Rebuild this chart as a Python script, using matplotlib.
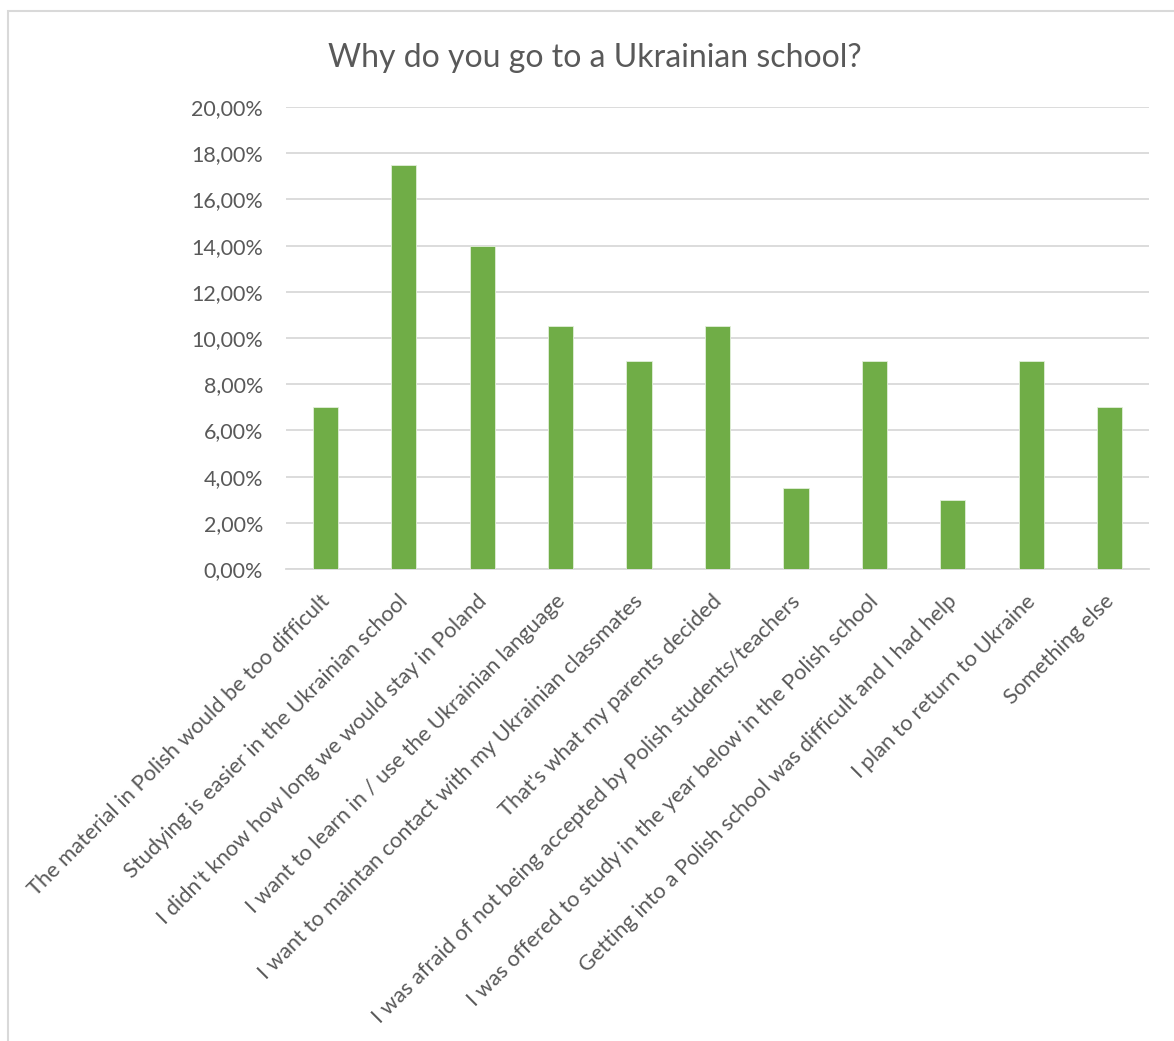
import matplotlib
matplotlib.use("Agg")
import matplotlib.pyplot as plt
import matplotlib.transforms as mtransforms
from matplotlib.ticker import FuncFormatter
from matplotlib.patches import Rectangle

title = "Why do you go to a Ukrainian school?"
categories = [
    "The material in Polish would be too difficult",
    "Studying is easier in the Ukrainian school",
    "I didn't know how long we would stay in Poland",
    "I want to learn in / use the Ukrainian language",
    "I want to maintan contact with my Ukrainian classmates",
    "That's what my parents decided",
    "I was afraid of not being accepted by Polish students/teachers",
    "I was offered to study in the year below in the Polish school",
    "Getting into a Polish school was difficult and I had help",
    "I plan to return to Ukraine",
    "Something else",
]
shares = [7.0, 17.5, 14.0, 10.5, 9.0, 10.5, 3.5, 9.0, 3.0, 9.0, 7.0]
y_ticks = [0, 2, 4, 6, 8, 10, 12, 14, 16, 18, 20]

TEXT = "#595959"
GRID = "#D9D9D9"
BAR = "#70AD47"
FONT = ["Lato", "DejaVu Sans"]

plt.rcParams["font.family"] = FONT

W, H = 1174, 1041
fig = plt.figure(figsize=(W / 100, H / 100), dpi=100)
fig.patch.set_facecolor("white")

# chart-area frame
fig.add_artist(Rectangle((7.5 / W, -0.01), 1.1, 1 - 11 / H + 0.01,
                         transform=fig.transFigure, fill=False,
                         edgecolor=GRID, linewidth=1.5))

ax = fig.add_axes([286 / W, 1 - 569 / H, (1149 - 286) / W, (569 - 107) / H])
x = list(range(len(categories)))
ax.bar(x, shares, width=0.32, color=BAR, edgecolor="#E2EFDA", linewidth=0.6,
       zorder=3)

ax.set_xlim(-0.5, len(categories) - 0.5)
ax.set_ylim(0, 20)
ax.set_yticks(y_ticks)
ax.yaxis.set_major_formatter(FuncFormatter(lambda v, p: f"{v:.2f}%".replace(".", ",")))
ax.grid(axis="y", color=GRID, linewidth=1.3, zorder=0)
ax.set_axisbelow(True)
for s in ["top", "right", "left"]:
    ax.spines[s].set_visible(False)
ax.spines["bottom"].set_color(GRID)
ax.spines["bottom"].set_linewidth(1.3)
ax.tick_params(axis="y", length=0, pad=16.5, labelsize=15.5, labelcolor=TEXT)
ax.tick_params(axis="x", length=0, pad=16, labelsize=15.75, labelcolor=TEXT)

ax.set_xticks(x)
ax.set_xticklabels(categories, rotation=45, ha="right", va="top",
                   rotation_mode="anchor")
shift = mtransforms.ScaledTranslation(-6 / 100, 0, fig.dpi_scale_trans)
for lbl in ax.get_xticklabels():
    lbl.set_transform(lbl.get_transform() + shift)

fig.text(595 / W, 1 - 58 / H, title, ha="center", va="center",
         fontsize=23, color=TEXT)

fig.savefig("out.png", dpi=100, facecolor="white")
